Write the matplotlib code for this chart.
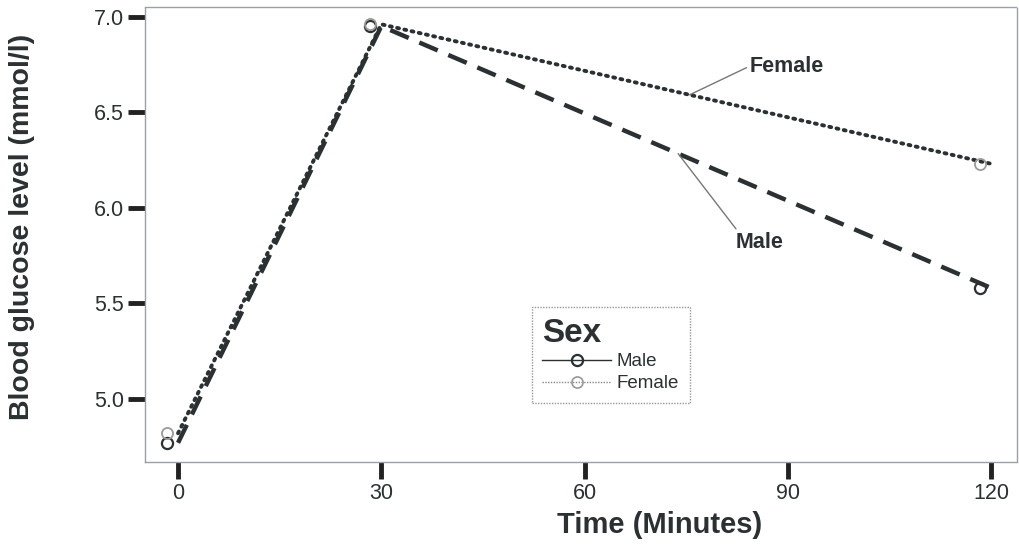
import matplotlib
matplotlib.use("Agg")
import matplotlib.pyplot as plt
from matplotlib.lines import Line2D

plt.rcParams['font.family'] = ['Liberation Sans', 'DejaVu Sans']

# Measurement times (minutes) and mean blood glucose (mmol/l)
times = [0, 30, 120]
male = [4.77, 6.95, 5.58]
female = [4.82, 6.96, 6.23]
x_ticks = [0, 30, 60, 90, 120]
y_ticks = [5.0, 5.5, 6.0, 6.5, 7.0]

ink = '#2b3133'
fig = plt.figure(figsize=(10.2, 5.46), dpi=100)
ax = fig.add_axes([0.142, 0.154, 0.855, 0.833])

# series lines
ax.plot(times, male, color=ink, lw=3.2, ls=(0, (4.5, 2.6)), zorder=3)
ax.plot(times, female, color=ink, lw=2.8, ls=(0, (0.5, 1.4)),
        dash_capstyle='round', zorder=3)

# markers drawn slightly to the left of the time points
mark_shift = -1.6
ax.plot([t + mark_shift for t in times], male, ls='none', marker='o', ms=8,
        mfc='none', mec=ink, mew=1.6, zorder=4)
ax.plot([t + mark_shift for t in times], female, ls='none', marker='o', ms=8,
        mfc='none', mec='#9a9a9a', mew=1.3, zorder=4)

ax.set_xlim(-4.9, 123.8)
ax.set_ylim(4.67, 7.05)
ax.set_xticks(x_ticks)
ax.set_xticklabels([str(v) for v in x_ticks])
ax.set_yticks(y_ticks)
ax.set_yticklabels([f"{v:.1f}" for v in y_ticks])
ax.tick_params(axis='both', direction='out', length=12, width=3.5,
               color='#222222', labelsize=15.5, labelcolor=ink, pad=3)

for s in ax.spines.values():
    s.set_linestyle((0, (1, 1)))
    s.set_color('#9aa0aa')
    s.set_linewidth(1.0)

ax.set_xlabel('Time (Minutes)', fontsize=21, fontweight='bold', color=ink,
              va='center')
ax.xaxis.set_label_coords(0.59, -0.138)
ax.set_ylabel('Blood glucose level (mmol/l)', fontsize=20.5,
              fontweight='bold', color=ink, va='center')
ax.yaxis.set_label_coords(-0.141, 0.517)

# line labels with leader lines
ax.annotate('Female', xy=(75.5, 6.96 + (6.23 - 6.96) * (75.5 - 30) / 90),
            xytext=(84.3, 6.74), fontsize=15.5, fontweight='bold', color=ink,
            ha='left', va='center',
            arrowprops=dict(arrowstyle='-', color='#777777', lw=1.0,
                            shrinkA=0, shrinkB=0, relpos=(0, 0.5)))
ax.annotate('Male', xy=(73.8, 6.95 + (5.58 - 6.95) * (73.8 - 30) / 90),
            xytext=(82.3, 5.82), fontsize=15.5, fontweight='bold', color=ink,
            ha='left', va='center',
            arrowprops=dict(arrowstyle='-', color='#777777', lw=1.0,
                            shrinkA=0, shrinkB=0, relpos=(0.05, 1.0)))

handles = [
    Line2D([], [], color=ink, lw=1.0, marker='o', ms=8, mfc='none',
           mec=ink, mew=1.6),
    Line2D([], [], color='#888888', lw=1.0, ls=(0, (1, 1)), marker='o', ms=8,
           mfc='none', mec='#999999', mew=1.2),
]
leg = ax.legend(handles, ['Male', 'Female'], title='Sex',
                loc='upper left', bbox_to_anchor=(0.4435, 0.34),
                fontsize=13.5, frameon=True, fancybox=False,
                handlelength=3.7, handletextpad=0.3, borderpad=0.55,
                labelspacing=0.25, borderaxespad=0)
leg.get_title().set_fontsize(24)
leg.get_title().set_fontweight('bold')
leg.get_title().set_color(ink)
leg._legend_box.align = 'left'
for t in leg.get_texts():
    t.set_color(ink)
fr = leg.get_frame()
fr.set_edgecolor('#7a7f88')
fr.set_linestyle((0, (1, 1)))
fr.set_linewidth(1.0)
leg.set_zorder(5)

fig.savefig('out.png', dpi=100)
